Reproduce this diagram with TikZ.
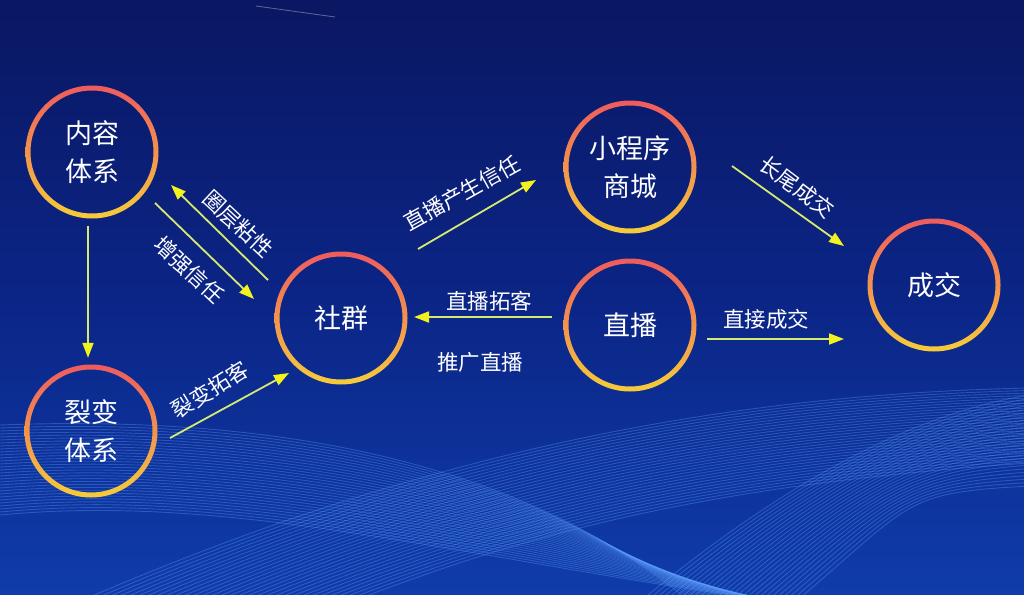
\documentclass[tikz,border=0pt]{standalone}
\usepackage{fontspec}
\newfontfamily\cjk{Noto Sans CJK SC}
\usetikzlibrary{arrows.meta}
\definecolor{bgtop}{HTML}{0A1762}
\definecolor{bgmid}{HTML}{0B2586}
\definecolor{bgbot}{HTML}{0F3CAA}
\definecolor{ringtop}{HTML}{EE5B5E}
\definecolor{ringbot}{HTML}{F6CC3A}
\definecolor{arrline}{HTML}{D6EA72}
\definecolor{arrhead}{HTML}{F2F21E}
\definecolor{wave}{HTML}{5FA0FF}
\tikzset{
  hub/.style={circle, minimum size=133pt, inner sep=0pt, align=center, text=white,
    font=\cjk\fontsize{27}{38}\selectfont},
  lbl/.style={text=white, font=\cjk\fontsize{21.5}{24}\selectfont, inner sep=0pt},
  arr/.style={draw=arrline, line width=1.8pt,
    -{Triangle[length=15pt,width=11pt,fill=arrhead,color=arrhead]}},
  wv/.style={draw=wave, line width=0.9pt, opacity=0.34}
}
\newcommand{\ring}[2]{%
  \shade[top color=ringtop, bottom color=ringbot, even odd rule]
    (#1,#2) circle (66.5pt) (#1,#2) circle (61.5pt);}
\begin{document}
\begin{tikzpicture}[x=1pt,y=-1pt]
\useasboundingbox (0,0) rectangle (1024,594);
\shade[top color=bgtop, bottom color=bgbot, middle color=bgmid] (0,0) rectangle (1024,594);
% faint streak at top
\draw[white, opacity=0.35, line width=0.8pt] (256,6) -- (335,17);
% waves
\begin{scope}
\clip (0,0) rectangle (1024,594);
\foreach \k in {0,...,30} {
  \draw[wv] (0,{425+3*\k}) .. controls ({260},{415+2.5*\k}) and ({520},{455+4*\k}) .. ({700+5*\k},610);
}
\foreach \k in {0,...,30} {
  \draw[wv] ({60+9*\k},610) .. controls ({400+4*\k},{460+2.5*\k}) and ({700},{395+3*\k}) .. (1030,{388+2.5*\k});
}
\foreach \k in {0,...,26} {
  \draw[wv] ({630+6*\k},610) .. controls ({760+6*\k},{500}) and ({900},{415+3*\k}) .. (1030,{395+3.5*\k});
}
\end{scope}
% rings
\ring{92}{152}
\ring{91}{431}
\ring{341}{318}
\ring{630}{167}
\ring{630}{325}
\ring{934}{285}
% nodes
\node[hub] (nr) at (92,152) {内容\\体系};
\node[hub] (lb) at (91,431) {裂变\\体系};
\node[hub] (sq) at (341,318) {社群};
\node[hub] (xc) at (630,167) {小程序\\商城};
\node[hub] (zb) at (630,325) {直播};
\node[hub] (cj) at (934,285) {成交};
% arrow end points
\coordinate (qcS) at (268,280); \coordinate (qcE) at (171,185);
\coordinate (zqS) at (155,203); \coordinate (zqE) at (254,299);
\coordinate (lbS) at (170,438); \coordinate (lbE) at (289,373);
\coordinate (zxS) at (418,249); \coordinate (zxE) at (536,180);
\coordinate (tkS) at (552,317); \coordinate (tkE) at (414,317);
\coordinate (wcS) at (732,166); \coordinate (wcE) at (844,246);
\coordinate (jcS) at (707,339); \coordinate (jcE) at (844,339);
% connectors
\draw[arr, shorten <=7pt, shorten >=6.5pt] ([xshift=-4pt]nr.south) -- ([xshift=-3pt]lb.north);
\draw[arr] (qcS) -- (qcE);
\draw[arr] (zqS) -- (zqE);
\draw[arr] (lbS) -- (lbE);
\draw[arr] (zxS) -- (zxE);
\draw[arr] (tkS) -- (tkE);
\draw[arr] (wcS) -- (wcE);
\draw[arr] (jcS) -- (jcE);
% labels
\node[lbl, rotate=-43] (l1) at (238,224) {圈层粘性};
\node[lbl, rotate=-43] (l2) at (189,270) {增强信任};
\node[lbl, rotate=32] (l3) at (210,390) {裂变拓客};
\node[lbl, rotate=29] (l4) at (462,193) {直播产生信任};
\node[lbl] (l5) at (489,301) {直播拓客};
\node[lbl] (l6) at (480,362) {推广直播};
\node[lbl, rotate=-37] (l7) at (797,187) {长尾成交};
\node[lbl] (l8) at (766,319) {直接成交};
\end{tikzpicture}
\end{document}
